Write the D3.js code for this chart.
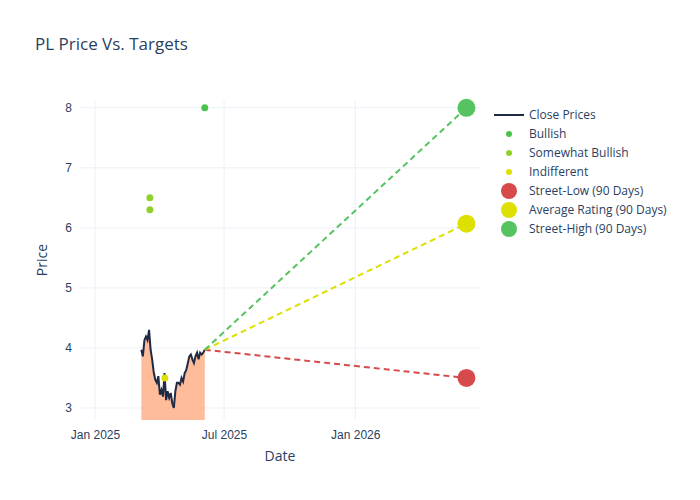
<!DOCTYPE html>
<html>
<head>
<meta charset="utf-8">
<script src="https://d3js.org/d3.v7.min.js"></script>
<style>
body { margin: 0; background: #fff; font-family: "Open Sans", "DejaVu Sans", sans-serif; }
.grid line { stroke: #ebf0f8; }
.tick text { fill: #2a3f5f; font-size: 12px; }
</style>
</head>
<body>
<svg width="700" height="500"></svg>
<script>
var closes = [3.97,3.86,4.13,4.19,4.13,4.3,3.97,3.81,3.6,3.47,3.42,3.53,3.22,3.3,3.19,3.58,3.13,3.28,3.17,3.25,3.08,3.0,3.28,3.42,3.42,3.39,3.5,3.44,3.58,3.63,3.74,3.86,3.89,3.81,3.75,3.86,3.92,3.81,3.92,3.89,3.92,3.97];
var priceStart = "2025-03-07", priceEnd = "2025-06-04";
var ratingTypes = ["Bullish", "Somewhat Bullish", "Indifferent"];
var ratingColors = ["#4cc24c", "#8fd12c", "#dde000"];
var ratings = [
  {date: "2025-06-04", price: 8.0, type: "Bullish"},
  {date: "2025-03-19", price: 6.5, type: "Somewhat Bullish"},
  {date: "2025-03-19", price: 6.3, type: "Somewhat Bullish"},
  {date: "2025-04-09", price: 3.5, type: "Indifferent"}
];
var targetNames = ["Street-Low (90 Days)", "Average Rating (90 Days)", "Street-High (90 Days)"];
var targetValues = [3.5, 6.07, 8.0];
var targetColors = ["#d64a4b", "#dde000", "#55c35f"];
var targetDate = "2026-06-06";
var xTicks = ["2025-01-01", "2025-07-01", "2026-01-01"];
var yTicks = [3, 4, 5, 6, 7, 8];

var parse = d3.utcParse("%Y-%m-%d");
var svg = d3.select("svg");
var L = 80, R = 480, T = 100, B = 420;

var t0 = parse(priceStart), t1 = parse(priceEnd);
var prices = closes.map(function(v, i) {
  return {date: new Date(+t0 + (t1 - t0) * i / (closes.length - 1)), v: v};
});

var x = d3.scaleUtc().domain([parse("2024-12-11"), parse("2026-06-25")]).range([L, R]);
var y = d3.scaleLinear().domain([2.8, 8.13]).range([B, T]);

svg.append("g").attr("class", "grid")
  .selectAll("line.v").data(xTicks).enter().append("line")
  .attr("x1", function(d) { return x(parse(d)); }).attr("x2", function(d) { return x(parse(d)); })
  .attr("y1", T).attr("y2", B);
svg.append("g").attr("class", "grid")
  .selectAll("line.h").data(yTicks).enter().append("line")
  .attr("x1", L).attr("x2", R)
  .attr("y1", function(d) { return y(d); }).attr("y2", function(d) { return y(d); });

svg.append("g").attr("transform", "translate(0," + B + ")")
  .call(d3.axisBottom(x).tickValues(xTicks.map(parse)).tickFormat(d3.utcFormat("%b %Y")).tickSize(0).tickPadding(10));
svg.append("g").attr("transform", "translate(" + L + ",0)")
  .call(d3.axisLeft(y).tickValues(yTicks).tickFormat(d3.format("d")).tickSize(0).tickPadding(8));
svg.selectAll(".domain").remove();

svg.append("path").datum(prices)
  .attr("fill", "#ffb088").attr("opacity", 0.85)
  .attr("d", d3.area().x(function(d) { return x(d.date); }).y0(B).y1(function(d) { return y(d.v); }));
svg.append("path").datum(prices)
  .attr("fill", "none").attr("stroke", "#1f2a44").attr("stroke-width", 2)
  .attr("d", d3.line().x(function(d) { return x(d.date); }).y(function(d) { return y(d.v); }));

var last = prices[prices.length - 1];
targetValues.forEach(function(v, i) {
  svg.append("line")
    .attr("x1", x(last.date)).attr("y1", y(last.v))
    .attr("x2", x(parse(targetDate))).attr("y2", y(v))
    .attr("stroke", targetColors[i]).attr("stroke-width", 2).attr("stroke-dasharray", "6,4");
});

svg.selectAll("circle.r").data(ratings).enter().append("circle")
  .attr("cx", function(d) { return x(parse(d.date)); })
  .attr("cy", function(d) { return y(d.price); })
  .attr("r", 3.5)
  .attr("fill", function(d) { return ratingColors[ratingTypes.indexOf(d.type)]; });

svg.selectAll("circle.t").data(targetValues).enter().append("circle")
  .attr("cx", x(parse(targetDate)))
  .attr("cy", function(d) { return y(d); })
  .attr("r", 9)
  .attr("fill", function(d, i) { return targetColors[i]; });

svg.append("text").attr("x", 35).attr("y", 50).attr("fill", "#2a3f5f")
  .style("font-size", "17px").text("PL Price Vs. Targets");
svg.append("text").attr("x", (L + R) / 2).attr("y", 461).attr("text-anchor", "middle")
  .attr("fill", "#2a3f5f").style("font-size", "14px").text("Date");
svg.append("text").attr("transform", "translate(47," + ((T + B) / 2) + ") rotate(-90)")
  .attr("text-anchor", "middle").attr("fill", "#2a3f5f").style("font-size", "14px").text("Price");

var leg = svg.append("g").attr("transform", "translate(494,115)");
var items = [{name: "Close Prices", kind: "line", color: "#1f2a44"}]
  .concat(ratingTypes.map(function(n, i) { return {name: n, kind: "dot", color: ratingColors[i]}; }))
  .concat(targetNames.map(function(n, i) { return {name: n, kind: "big", color: targetColors[i]}; }));
items.forEach(function(d, i) {
  var g = leg.append("g").attr("transform", "translate(0," + (i * 19) + ")");
  if (d.kind === "line") g.append("line").attr("x1", 0).attr("x2", 30).attr("stroke", d.color).attr("stroke-width", 2);
  else g.append("circle").attr("cx", 15).attr("r", d.kind === "dot" ? 3 : 8).attr("fill", d.color);
  g.append("text").attr("x", 35).attr("dy", "0.35em").attr("fill", "#2a3f5f").style("font-size", "12px").text(d.name);
});
</script>
</body>
</html>
